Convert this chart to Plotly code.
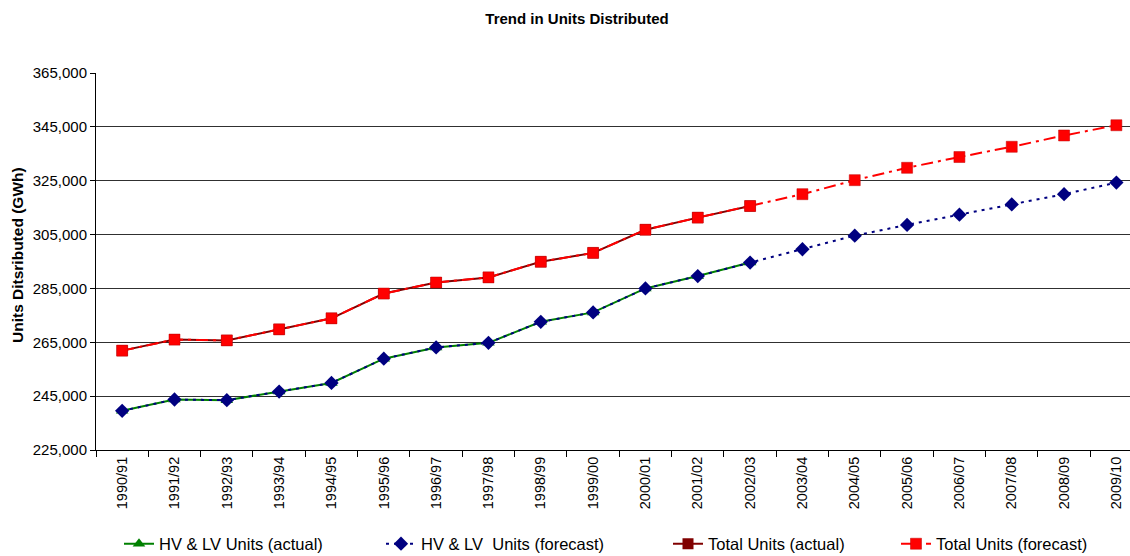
import plotly.graph_objects as go

categories = ["1990/91", "1991/92", "1992/93", "1993/94", "1994/95", "1995/96", "1996/97",
              "1997/98", "1998/99", "1999/00", "2000/01", "2001/02", "2002/03", "2003/04",
              "2004/05", "2005/06", "2006/07", "2007/08", "2008/09", "2009/10"]

hvlv_actual = [239550, 243750, 243500, 246700, 249900, 258900, 263100, 264800, 272600,
               276100, 285000, 289600, 294600]
hvlv_forecast = [239550, 243750, 243500, 246700, 249900, 258900, 263100, 264800, 272600,
                 276100, 285000, 289600, 294600, 299550, 304600, 308600, 312400, 316200,
                 320000, 324300]
total_actual = [261900, 266000, 265700, 269800, 273900, 283100, 287200, 289100, 294900,
                298200, 306800, 311300, 315600]
total_forecast = [261900, 266000, 265700, 269800, 273900, 283100, 287200, 289100, 294900,
                  298200, 306800, 311300, 315600, 320000, 325200, 329800, 333800, 337600,
                  341800, 345600]

W, H = 1130, 556
L, R, T, B = 96, 0, 73, 106
FONT = "Liberation Sans, Arial, sans-serif"

fig = go.Figure()
fig.add_trace(go.Scatter(
    x=categories[:len(hvlv_actual)], y=hvlv_actual, name="HV & LV Units (actual)",
    mode="lines+markers", line=dict(color="#008000", width=2),
    marker=dict(symbol="triangle-up", size=11, color="#008000"),
    legend="legend", showlegend=True))
fig.add_trace(go.Scatter(
    x=categories, y=hvlv_forecast, name="HV & LV  Units (forecast)",
    mode="lines+markers", line=dict(color="#000080", width=2, dash="3px,5px"),
    marker=dict(symbol="diamond", size=11, color="#000080"),
    legend="legend2", showlegend=True))
fig.add_trace(go.Scatter(
    x=categories[:len(total_actual)], y=total_actual, name="Total Units (actual)",
    mode="lines+markers", line=dict(color="#800000", width=2),
    marker=dict(symbol="square", size=11, color="#800000"),
    legend="legend3", showlegend=True))
fig.add_trace(go.Scatter(
    x=categories, y=total_forecast, name="Total Units (forecast)",
    mode="lines+markers", line=dict(color="#FF0000", width=2, dash="12px,5px,3px,5px"),
    marker=dict(symbol="square", size=11, color="#FF0000",
                line=dict(color="#C00000", width=0.5)),
    legend="legend4", showlegend=True))

def leg(px):
    return dict(orientation="h", xref="container", yref="container",
                x=px / W, y=1 - 544 / H, xanchor="left", yanchor="middle",
                font=dict(family=FONT, size=16.5, color="#000000"),
                bgcolor="rgba(0,0,0,0)", borderwidth=0, visible=True)

fig.update_layout(
    width=W, height=H, showlegend=True,
    margin=dict(l=L, r=R, t=T, b=B),
    paper_bgcolor="white", plot_bgcolor="white",
    font=dict(family=FONT, size=14, color="#000000"),
    title=dict(text="<b>Trend in Units Distributed</b>", xref="container", yref="container",
               x=577 / W, y=1 - 19 / H, xanchor="center", yanchor="middle",
               font=dict(family=FONT, size=15, color="#000000")),
    xaxis=dict(type="category", categoryorder="array", categoryarray=categories,
               range=[-0.5, 19.26], tickson="boundaries", ticks="outside", ticklen=6,
               tickcolor="#000000", tickangle=-90, showline=True, linecolor="#000000",
               linewidth=1, showgrid=False, zeroline=False,
               tickfont=dict(family=FONT, size=14.5, color="#000000")),
    yaxis=dict(range=[225000, 365000], dtick=20000, tick0=225000, tickformat=",",
               ticks="outside", ticklen=5, tickcolor="#000000", showline=True,
               linecolor="#000000", linewidth=1, showgrid=True, gridcolor="#303030",
               gridwidth=1, zeroline=False,
               tickfont=dict(family=FONT, size=15, color="#000000")),
    legend=leg(119), legend2=leg(381), legend3=leg(668), legend4=leg(896),
    annotations=[dict(text="<b>Units Ditsributed (GWh)</b>", xref="paper", yref="paper",
                      x=(17 - L) / (W - L - R), y=(450 - 255) / (450 - 73), textangle=-90,
                      showarrow=False, xanchor="center", yanchor="middle",
                      font=dict(family=FONT, size=15.5, color="#000000"))],
)

fig.write_html("out.html")
